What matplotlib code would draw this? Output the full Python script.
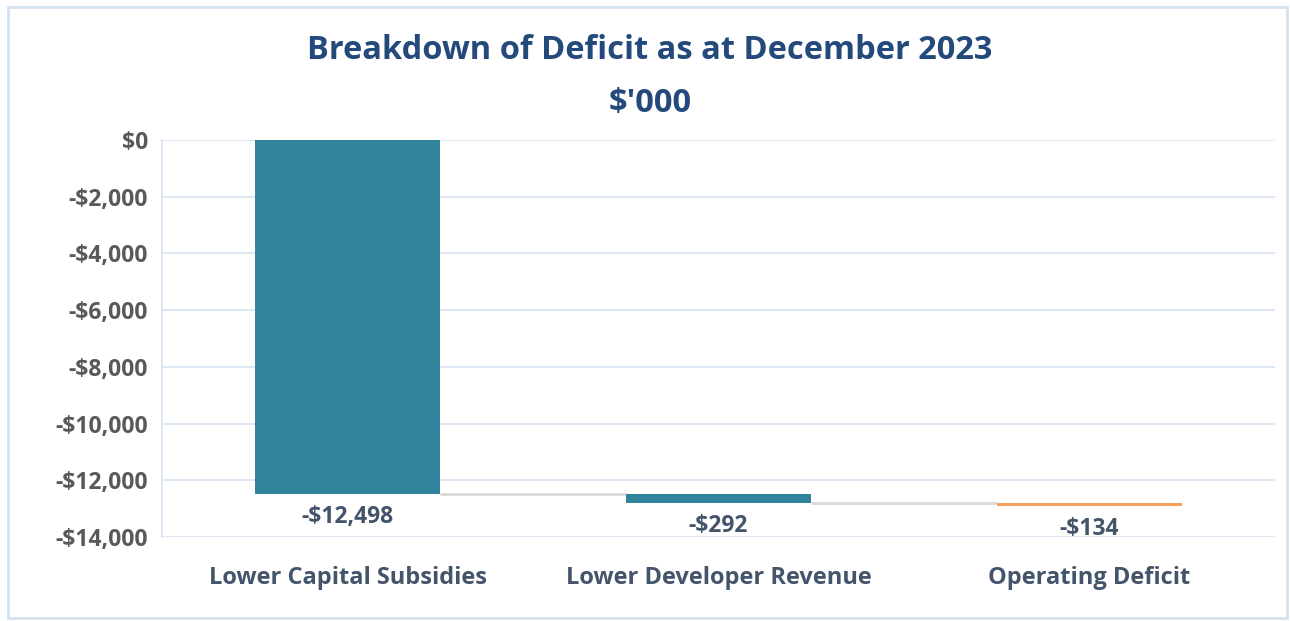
import matplotlib
matplotlib.use("Agg")
import matplotlib.pyplot as plt
from matplotlib.ticker import FuncFormatter
from matplotlib.patches import Rectangle
import numpy as np

plt.rcParams['text.parse_math'] = False
plt.rcParams['font.family'] = ['Open Sans', 'DejaVu Sans']

# Deficit components ($'000)
categories = ["Lower Capital Subsidies", "Lower Developer Revenue", "Operating Deficit"]
changes = [-12498, -292, -134]
bar_colors = ["#31849B", "#31849B", "#F9A05B"]
y_ticks = [0, -2000, -4000, -6000, -8000, -10000, -12000, -14000]

title_color = "#244A7C"
label_color = "#44546A"
tick_color = "#595959"
grid_color = "#D5E3F1"

fig = plt.figure(figsize=(12.9, 6.21), dpi=100)
ax = fig.add_axes([0.1256, 0.1353, 0.8628, 0.6393])

x = np.arange(len(categories))
starts = np.concatenate([[0], np.cumsum(changes)[:-1]])
ends = starts + np.array(changes)
width = 0.5

ax.bar(x, changes, bottom=starts, width=width, color=bar_colors, zorder=3)

# connectors between consecutive bars at the running total
for i in range(len(categories) - 1):
    ax.hlines(ends[i], x[i] + width / 2, x[i + 1] - width / 2,
              color="#D9D9D9", lw=2, zorder=2)

# value labels under each bar
for xi, e, v in zip(x, ends, changes):
    ax.annotate(f"-${abs(v):,}", (xi, e), xytext=(0, -16.5), textcoords="offset points",
                ha="center", va="center", fontsize=16.5, fontweight="bold",
                color=label_color)

ax.set_xlim(-0.5, len(categories) - 0.5)
ax.set_ylim(-14000, 0)
ax.set_yticks(y_ticks)
ax.yaxis.set_major_formatter(FuncFormatter(
    lambda v, p: "$0" if v == 0 else f"-${abs(v):,.0f}"))
ax.set_xticks(x)
ax.set_xticklabels(categories)
ax.tick_params(axis="y", length=0, pad=10, labelsize=16.5, labelcolor=tick_color)
ax.tick_params(axis="x", length=0, pad=21, labelsize=17, labelcolor=label_color)
for lbl in ax.get_yticklabels() + ax.get_xticklabels():
    lbl.set_fontweight("bold")

ax.grid(axis="y", color=grid_color, lw=1.2, zorder=0)
for side in ["top", "right", "bottom"]:
    ax.spines[side].set_visible(False)
ax.spines["left"].set_color(grid_color)
ax.spines["left"].set_linewidth(1.2)

fig.text(0.504, 0.918, "Breakdown of Deficit as at December 2023", ha="center",
         va="center", fontsize=23.5, fontweight="bold", color=title_color)
fig.text(0.504, 0.834, "$'000", ha="center", va="center", fontsize=23.5,
         fontweight="bold", color=title_color)

# outer chart frame
fig.patches.append(Rectangle((0.006, 0.005), 0.992, 0.984, transform=fig.transFigure,
                             fill=False, ec="#D5E3F1", lw=2))

fig.savefig("out.png", dpi=100, facecolor="white")
